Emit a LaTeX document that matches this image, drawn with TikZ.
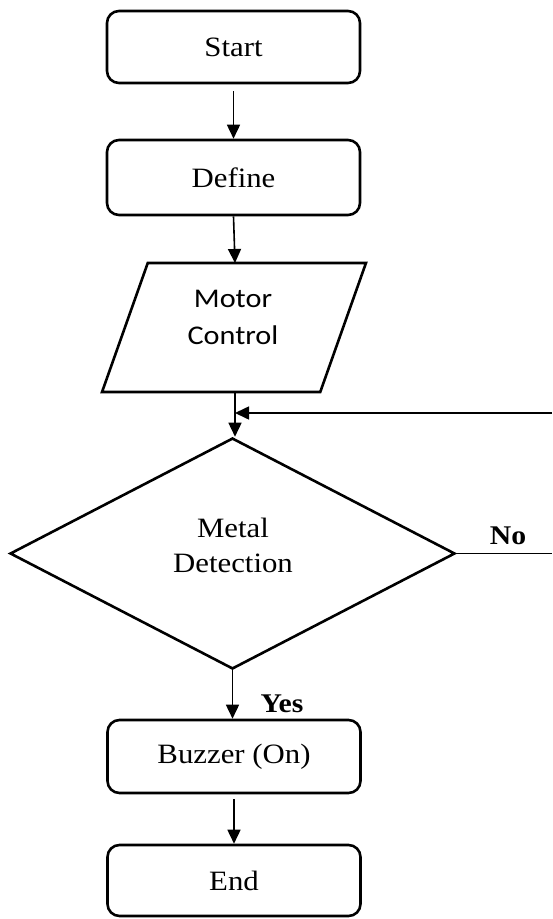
\documentclass[tikz,border=0pt]{standalone}
\usepackage{fontspec}
\setmainfont{Liberation Serif}[FakeStretch=1.1]
\newfontfamily\calfont{Carlito}[FakeStretch=1.12]
\usetikzlibrary{arrows.meta,shapes.geometric}
\begin{document}
\begin{tikzpicture}[x=1pt,y=-1pt,
  boxst/.style={draw,line width=2.6pt,rounded corners=12pt,minimum width=253pt,inner sep=0pt,font=\fontsize{28}{36}\selectfont},
  conn/.style={line width=1.6pt,-{Triangle[length=14pt,width=13pt]}},
  plain/.style={line width=1.6pt},
  txt/.style={inner sep=0pt,align=center},
  lbl/.style={font=\fontsize{27}{32}\selectfont\bfseries,inner sep=0pt}]
\useasboundingbox (0,0) rectangle (552,919);
\node[boxst,minimum height=72pt] (start) at (233.5,47) {Start};
\node[boxst,minimum height=75pt] (def) at (233.5,177.5) {Define};
\node[draw,line width=2.6pt,trapezium,trapezium left angle=68.4,trapezium right angle=111.6,trapezium stretches=true,minimum width=264pt,minimum height=129pt,inner sep=0pt] (mc) at (234,327.5) {\phantom{M}};
\node[txt,font=\calfont\fontsize{27}{37}\selectfont] (mct) at (233,317) {Motor\\Control};
\node[draw,line width=2.6pt,diamond,minimum width=445pt,minimum height=231pt,inner sep=0pt] (dia) at (232.5,553.5) {\phantom{M}};
\node[txt,font=\fontsize{28}{35}\selectfont] (diat) at (233,545) {Metal\\Detection};
\node[boxst,minimum height=73pt] (buz) at (234,756.5) {Buzzer (On)};
\node[boxst,minimum height=71pt] (end) at (234,880.5) {End};
\coordinate (mctop) at (235,263);
\coordinate (mcbot) at (235,392);
\coordinate (fb) at (552,413);
\coordinate (nr) at (552,553.5);
\node[lbl] (no) at (508,536) {No};
\node[lbl] (yes) at (282,704) {Yes};
\draw[conn] (start.south |- 0,91) -- (start.south |- def.north);
\draw[conn] (def.south) -- (mctop);
\draw[conn] (mcbot) -- (mcbot |- dia.north);
\draw[conn] (fb) -- (mcbot |- fb);
\draw[plain] (dia.east) -- (nr);
\draw[conn] (dia.south) -- (dia.south |- buz.north);
\draw[conn] (buz.south |- 0,799) -- (buz.south |- end.north);
\end{tikzpicture}
\end{document}
